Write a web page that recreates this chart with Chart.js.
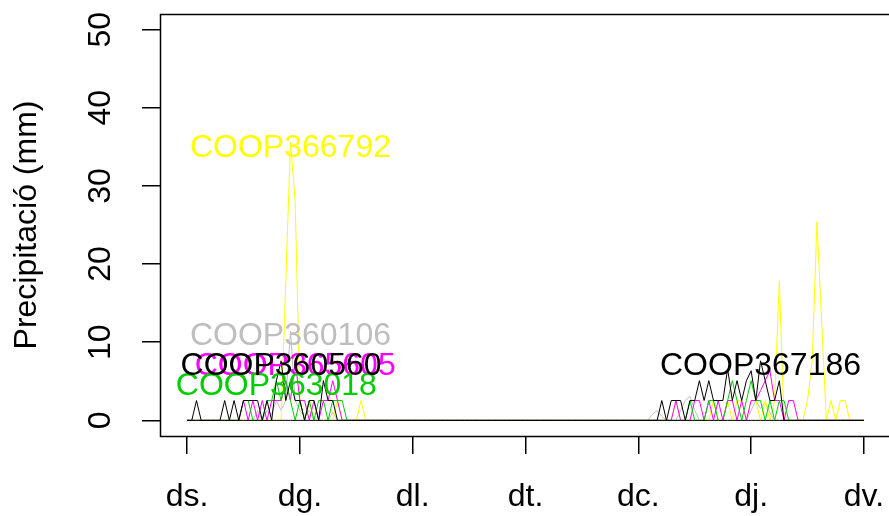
<!DOCTYPE html>
<html><head><meta charset="utf-8">
<script src="https://cdn.jsdelivr.net/npm/chart.js@4/dist/chart.umd.min.js"></script>
<style>html,body{margin:0;padding:0;background:#fff;overflow:hidden;width:889px;height:516px}canvas{display:block}</style>
</head><body><canvas id="c" width="900" height="516" style="width:900px;height:516px"></canvas>
<script>
// hours since Saturday 00:00
const hours = Array.from({length:145},(_,i)=>i);
const dayTicks = [0,24,48,72,96,120,144];
const dayLabels = ['ds.','dg.','dl.','dt.','dc.','dj.','dv.'];
const yTicks = [0,10,20,30,40,50];

const stationNames = ['COOP367186','COOP360560','COOP363018','COOP365605','COOP366792','COOP360106'];
const stationColors = ['#000000','#000000','#00CD00','#FF00FF','#FFFF00','#BEBEBE'];

const p367186 = [
0,0,0,0,0,0,0,0,0,0,0,0,
0,0,0,0,0,0,0,0,0,0,0,0,
0,0,0,0,0,0,0,0,0,0,0,0,
0,0,0,0,0,0,0,0,0,0,0,0,
0,0,0,0,0,0,0,0,0,0,0,0,
0,0,0,0,0,0,0,0,0,0,0,0,
0,0,0,0,0,0,0,0,0,0,0,0,
0,0,0,0,0,0,0,0,0,0,0,0,
0,0,0,0,0,2.54,0,2.54,2.54,2.54,0,2.54,
2.54,5.08,2.54,5.08,2.54,2.54,2.54,6.6,2.54,5.08,2.54,5.08,
6.35,2.54,7.62,5.08,2.54,2.54,5.08,0,0,0,0,0,
0,0,0,0,0,0,0,0,0,0,0,0,
0];
const p360560 = [
0,0,2.54,0,0,0,0,0,2.54,0,2.54,0,
2.54,2.54,2.54,2.54,0,2.54,0,5.08,7.62,2.54,5.08,2.54,
2.54,0,2.54,2.54,0,5.08,2.54,2.54,0,0,0,0,
0,0,0,0,0,0,0,0,0,0,0,0,
0,0,0,0,0,0,0,0,0,0,0,0,
0,0,0,0,0,0,0,0,0,0,0,0,
0,0,0,0,0,0,0,0,0,0,0,0,
0,0,0,0,0,0,0,0,0,0,0,0,
0,0,0,0,0,0,0,0,0,0,0,0,
0,0,0,0,0,0,0,0,0,0,0,0,
0,0,0,0,0,0,0,0,0,0,0,0,
0,0,0,0,0,0,0,0,0,0,0,0,
0];
const p363018 = [
0,0,0,0,0,0,0,0,0,0,0,0,
2.54,2.54,0,0,0,2.54,2.54,5.08,2.54,5.08,2.54,0,
2.54,0,2.54,0,2.54,2.54,0,2.54,2.54,2.54,0,0,
0,0,0,0,0,0,0,0,0,0,0,0,
0,0,0,0,0,0,0,0,0,0,0,0,
0,0,0,0,0,0,0,0,0,0,0,0,
0,0,0,0,0,0,0,0,0,0,0,0,
0,0,0,0,0,0,0,0,0,0,0,0,
0,0,0,0,0,0,0,0,0,0,0,2.54,
0,0,0,2.54,2.54,0,0,2.54,5.08,2.54,0,2.54,
5.08,2.54,2.54,0,2.54,0,2.54,2.54,0,0,0,0,
0,0,0,0,0,0,0,0,0,0,0,0,
0];
const p365605 = [
0,0,0,0,0,0,0,0,0,0,0,0,
2.54,0,2.54,0,2.54,0,2.54,2.54,2.54,5.08,2.54,7.62,
2.54,2.54,0,2.54,0,2.54,2.54,5.08,2.54,0,0,0,
0,0,0,0,0,0,0,0,0,0,0,0,
0,0,0,0,0,0,0,0,0,0,0,0,
0,0,0,0,0,0,0,0,0,0,0,0,
0,0,0,0,0,0,0,0,0,0,0,0,
0,0,0,0,0,0,0,0,0,0,0,0,
0,0,0,0,0,0,0,0,2.54,0,0,0,
2.54,2.54,0,2.54,0,2.54,0,2.54,2.54,0,2.54,0,
2.54,2.54,3.81,5.08,6.35,2.54,2.54,0,2.54,2.54,0,0,
0,0,0,0,0,0,0,0,0,0,0,0,
0];
const p366792 = [
0,0,0,0,0,0,0,0,0,0,0,0,
0,0,0,0,0,0,0,0,0,17.78,35.56,27.94,
2.54,0,2.54,0,0,0,0,0,2.54,0,0,0,
0,2.54,0,0,0,0,0,0,0,0,0,0,
0,0,0,0,0,0,0,0,0,0,0,0,
0,0,0,0,0,0,0,0,0,0,0,0,
0,0,0,0,0,0,0,0,0,0,0,0,
0,0,0,0,0,0,0,0,0,0,0,0,
0,0,0,0,0,0,0,0,2.54,0,0,0,
0,0,0,0,2.54,0,0,2.54,0,2.54,2.54,0,
2.54,2.54,0,2.54,0,2.54,17.78,0,0,0,0,0,
2.54,7.62,25.4,12.7,0,2.54,0,2.54,2.54,0,0,0,
0];
const p360106 = [
0,0,0,0,0,0,0,0,0,0,0,0,
0,0,0,1.27,0,1.27,0.76,2.54,1.27,2.54,11.43,2.54,
1.27,0.51,1.27,0,0,0,0,1.02,0,0,0,0,
0,0,0,0,0,0,0,0,0,0,0,0,
0,0,0,0,0,0,0,0,0,0,0,0,
0,0,0,0,0,0,0,0,0,0,0,0,
0,0,0,0,0,0,0,0,0,0,0,0,
0,0,0,0,0,0,0,0,0,0,0,0,
0,0,0,0.76,1.27,0.51,0,0,0,1.27,2.54,3.05,
1.27,0,0,0,0,0,0,0,0,0,0,0,
1.27,2.54,1.52,2.29,1.02,0,0,0,0,0,0,0,
0,0,0,0,0,0,0,0,0,0,0,0,
0];

const stationValues = [p367186, p360560, p363018, p365605, p366792, p360106];

const FONT = {family:"'Liberation Sans', Arial, sans-serif", size:32};

const datasets = stationNames.map((name,k)=>({
  label:name,
  data: hours.map((h,i)=>({x:h, y:stationValues[k][i]})),
  borderColor: stationColors[k],
  backgroundColor: stationColors[k],
  borderWidth:1, pointRadius:0, tension:0, fill:false
}));

const boxPlugin = {
  id:'box',
  afterDraw(chart){
    const {ctx, chartArea:a} = chart;
    ctx.save();
    ctx.strokeStyle='#000'; ctx.lineWidth=1.5;
    ctx.strokeRect(Math.round(a.left)+0.5, Math.round(a.top)+0.5, Math.round(a.right-a.left), Math.round(a.bottom-a.top));
    ctx.restore();
  }
};
const labelPlugin = {
  id:'stationLabels',
  afterDatasetsDraw(chart){
    const {ctx, scales:{x,y}} = chart;
    ctx.save();
    ctx.font = FONT.size+'px '+FONT.family;
    ctx.textAlign='center'; ctx.textBaseline='alphabetic';
    for (let k=stationNames.length-1;k>=0;k--){
      const vals = stationValues[k];
      let mi=0; for(let i=1;i<vals.length;i++){ if(vals[i]>vals[mi]) mi=i; }
      ctx.fillStyle = stationColors[k];
      ctx.fillText(stationNames[k], x.getPixelForValue(hours[mi]), y.getPixelForValue(vals[mi]) + FONT.size*0.44);
    }
    ctx.restore();
  }
};

new Chart(document.getElementById('c'), {
  type:'line',
  data:{datasets},
  plugins:[boxPlugin, labelPlugin],
  options:{
    responsive:false, animation:false, devicePixelRatio:1,
    layout:{padding:{left:0, top:14, right:9, bottom:0}},
    plugins:{legend:{display:false}, tooltip:{enabled:false}},
    scales:{
      x:{type:'linear', min:-5.76, max:149.76,
        afterBuildTicks: s => { s.ticks = dayTicks.map(v=>({value:v})); },
        afterFit: s => { s.height = 80; s.paddingLeft = 0; s.paddingRight = 0; },
        grid:{display:true, drawOnChartArea:false, drawTicks:true, tickLength:18, color:'#000', lineWidth:1.5},
        border:{display:false},
        ticks:{autoSkip:false, maxRotation:0, minRotation:0, padding:24, color:'#000', font:FONT,
          callback:(v,i)=>dayLabels[dayTicks.indexOf(v)]}
      },
      y:{min:-2, max:52,
        afterBuildTicks: s => { s.ticks = yTicks.map(v=>({value:v})); },
        afterFit: s => { s.width = 160; s.paddingTop = 0; s.paddingBottom = 0; },
        grid:{display:true, drawOnChartArea:false, drawTicks:true, tickLength:18, color:'#000', lineWidth:1.5},
        border:{display:false},
        ticks:{minRotation:90, maxRotation:90, crossAlign:'center', padding:23, color:'#000', font:FONT},
        title:{display:true, text:'Precipitació (mm)', color:'#000', font:FONT, padding:{top:8,bottom:0}}
      }
    }
  }
});
</script></body></html>
